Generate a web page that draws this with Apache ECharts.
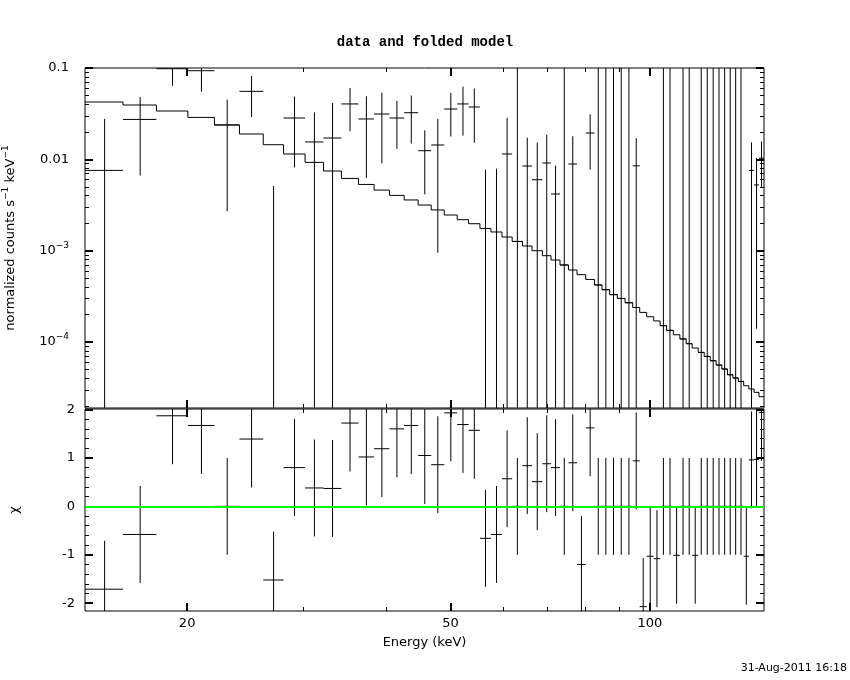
<!DOCTYPE html>
<html>
<head>
<meta charset="utf-8">
<script src="https://cdn.jsdelivr.net/npm/echarts@6/dist/echarts.min.js"></script>
<style>html,body{margin:0;padding:0;background:#fff}#chart{width:850px;height:680px}</style>
</head>
<body>
<div id="chart"></div>
<script>
// ---- data ----
const energyEdges = [14.02, 16.00, 17.97, 20.05, 21.99, 23.99, 26.06, 27.97, 30.14, 32.13,
  34.20, 36.29, 38.32, 40.42, 42.55, 44.67, 46.74, 48.91, 51.17, 53.23,
  55.37, 57.53, 59.78, 61.94, 64.20, 66.36, 68.81, 70.90, 73.16, 75.33,
  77.62, 80.01, 82.47, 84.65, 86.95, 89.28, 91.74, 94.20, 96.52, 98.90,
  101.34, 103.63, 106.00, 108.50, 110.99, 113.45, 115.85, 118.30, 120.80, 123.35,
  125.91, 128.43, 130.96, 133.49, 136.03, 138.57, 141.10, 143.68, 146.15, 148.72];

const dataVal = [0.00757, 0.02735, 0.0982, 0.0934, 0.0238, 0.0555, -0.0128, 0.02835, 0.0155, 0.01712,
  0.0404, 0.02767, 0.03134, 0.02835, 0.0324, 0.01243, 0.01435, 0.03556, 0.0404, 0.0374,
  -0.0098, -0.0071, 0.01144, 0.00126, 0.00845, 0.00598, 0.00912, 0.00417, 0.000697, 0.00889,
  -0.0043, 0.01942, 0.000421, 0.000374, 0.000330, 0.000300, 0.000269, 0.0085, -0.0205, -0.0101,
  -0.0106, 0.000151, 0.000134, -0.0100, 0.000108, 0.0000958, -0.0100, 0.0000769, 0.0000695, 0.0000624,
  0.0000560, 0.0000506, 0.0000438, 0.0000403, 0.0000370, -0.0103, 0.00757, 0.00524, 0.0103];

const dataErr = [0.0201, 0.0207, 0.0344, 0.0384, 0.0211, 0.0265, 0.0179, 0.0202, 0.0172, 0.0243,
  0.0201, 0.0214, 0.0223, 0.0153, 0.0175, 0.0083, 0.0134, 0.0178, 0.0222, 0.0222,
  0.0175, 0.0150, 0.0171, 0.3, 0.0088, 0.0093, 0.0095, 0.00434, 0.3, 0.0090,
  0.0040, 0.0117, 0.3, 0.3, 0.3, 0.3, 0.3, 0.0086, 0.0100, 0.0100,
  0.0100, 0.3, 0.3, 0.0100, 0.3, 0.3, 0.0100, 0.3, 0.3, 0.3,
  0.3, 0.3, 0.3, 0.3, 0.3, 0.0100, 0.00775, 0.0051, 0.0053];

const modelVal = [0.04243, 0.03934, 0.03382, 0.02877, 0.02376, 0.01894, 0.01446, 0.01144, 0.00926, 0.00745,
  0.00618, 0.00531, 0.00461, 0.00403, 0.00359, 0.00316, 0.00279, 0.002458, 0.002183, 0.001973,
  0.001752, 0.001601, 0.001411, 0.001263, 0.001125, 0.000999, 0.000881, 0.000790, 0.000697, 0.000614,
  0.000546, 0.000484, 0.000421, 0.000374, 0.000330, 0.000300, 0.000269, 0.000239, 0.000211, 0.000189,
  0.000170, 0.000151, 0.000134, 0.000120, 0.000108, 0.0000958, 0.0000859, 0.0000769, 0.0000695, 0.0000624,
  0.0000560, 0.0000506, 0.0000438, 0.0000403, 0.0000370, 0.0000332, 0.0000306, 0.0000281, 0.0000252];

const chiVal = [-1.71, -0.58, 1.87, 1.67, 0, 1.39, -1.52, 0.80, 0.38, 0.37,
  1.72, 1.02, 1.19, 1.60, 1.67, 1.05, 0.86, 1.93, 1.69, 1.57,
  -0.66, -0.58, 0.57, 0, 0.84, 0.51, 0.88, 0.80, 0, 0.90,
  -1.20, 1.62, 0, 0, 0, 0, 0, 0.94, -2.07, -1.03,
  -1.08, 0, 0, -1.01, 0, 0, -1.01, 0, 0, 0,
  0, 0, 0, 0, 0, -1.03, 0.96, 0.97, 1.94];

const xMajorTicks = [20, 50, 100];
const xTickLabels = ['20', '50', '100'];
const xMinorTicks = [30, 40, 60, 70, 80, 90];
const yTopMajorTicks = [0.0001, 0.001, 0.01, 0.1];
const yTopTickBase = ['10', '10', '0.01', '0.1'];
const yTopTickSup = ['\u22124', '\u22123', '', ''];
const yTopMinorTicks = [0.00002, 0.00003, 0.00004, 0.00005, 0.00006, 0.00007, 0.00008, 0.00009,
  0.0002, 0.0003, 0.0004, 0.0005, 0.0006, 0.0007, 0.0008, 0.0009,
  0.002, 0.003, 0.004, 0.005, 0.006, 0.007, 0.008, 0.009,
  0.02, 0.03, 0.04, 0.05, 0.06, 0.07, 0.08, 0.09];
const chiMajorTicks = [-2, -1, 0, 1, 2];
const chiTickLabels = ['-2', '-1', '0', '1', '2'];
const chiMinorTicks = [-1.8, -1.6, -1.4, -1.2, -0.8, -0.6, -0.4, -0.2, 0.2, 0.4, 0.6, 0.8, 1.2, 1.4, 1.6, 1.8];

const titleText = 'data and folded model';
const xName = 'Energy (keV)';
const yTopName = 'normalized counts s{s|\u22121} keV{s|\u22121}';
const yChiName = '\u03c7';
const dateText = '31-Aug-2011 16:18';

// ---- axis ranges ----
const X_MIN = energyEdges[0], X_MAX = energyEdges[energyEdges.length - 1];
const Y_MIN = 1.894e-5, Y_MAX = 0.1;
const CHI_MIN = -2.16, CHI_MAX = 2.01;
const FONT = 'DejaVu Sans';

const binLo = energyEdges.slice(0, -1);
const binHi = energyEdges.slice(1);

const topData = binLo.map((lo, i) => [lo, binHi[i], dataVal[i], dataErr[i]]);
const chiData = binLo.map((lo, i) => [lo, binHi[i], chiVal[i], 1]);
const modelLine = [];
binLo.forEach((lo, i) => { modelLine.push([lo, modelVal[i]]); modelLine.push([binHi[i], modelVal[i]]); });

function seg(a, b) {
  return { type: 'line', shape: { x1: a[0], y1: a[1], x2: b[0], y2: b[1] },
           style: { stroke: '#000', lineWidth: 1 } };
}
function makeRender(isLog) {
  return function (params, api) {
    const lo = api.value(0), hi = api.value(1), y = api.value(2), s = api.value(3);
    const xc = (lo + hi) / 2;
    const children = [];
    const up = y + s, dn = y - s;
    if (!isLog || y > 0) children.push(seg(api.coord([lo, y]), api.coord([hi, y])));
    if (!isLog || up > 0) {
      const bottom = isLog ? (dn > 0 ? dn : 1e-7) : dn;
      children.push(seg(api.coord([xc, up]), api.coord([xc, bottom])));
    }
    return { type: 'group', children };
  };
}

function axis(type, gridIndex, position, min, max, ticks, len, width, extra) {
  const a = {
    type, gridIndex, position, min, max,
    axisLine: { show: false, onZero: false },
    splitLine: { show: false },
    axisTick: { show: true, inside: true, length: len, customValues: ticks,
                lineStyle: { color: '#000', width } },
    axisLabel: { show: false }
  };
  if (type === 'log') a.logBase = 10;
  return Object.assign(a, extra || {});
}
const richLab = {
  b: { fontFamily: FONT, fontSize: 13, color: '#000', verticalAlign: 'middle', lineHeight: 20 },
  s: { fontFamily: FONT, fontSize: 9, color: '#000', verticalAlign: 'top', lineHeight: 20 }
};
function findIndex(v, ticks, isLog) {
  for (let i = 0; i < ticks.length; i++) {
    const d = isLog ? Math.abs(Math.log10(v) - Math.log10(ticks[i])) : Math.abs(v - ticks[i]);
    if (d < 1e-6) return i;
  }
  return -1;
}
function topLabel(v) {
  const i = findIndex(v, yTopMajorTicks, true);
  if (i < 0) return '';
  return '{b|' + yTopTickBase[i] + '}' + (yTopTickSup[i] ? '{s|' + yTopTickSup[i] + '}' : '');
}

const xAxes = [
  axis('log', 0, 'bottom', X_MIN, X_MAX, xMajorTicks, 8, 2),
  axis('log', 0, 'bottom', X_MIN, X_MAX, xMinorTicks, 4, 1),
  axis('log', 0, 'top', X_MIN, X_MAX, xMajorTicks, 8, 2),
  axis('log', 0, 'top', X_MIN, X_MAX, xMinorTicks, 4, 1),
  axis('log', 1, 'bottom', X_MIN, X_MAX, xMajorTicks, 8, 2, {
    axisLabel: { show: true, customValues: xMajorTicks, margin: 6,
      formatter: v => { const i = findIndex(v, xMajorTicks, true); return i < 0 ? '' : xTickLabels[i]; },
      fontFamily: FONT, fontSize: 13, color: '#000' },
    name: xName, nameLocation: 'middle', nameGap: 25,
    nameTextStyle: { fontFamily: FONT, fontSize: 13, color: '#000' }
  }),
  axis('log', 1, 'bottom', X_MIN, X_MAX, xMinorTicks, 4, 1),
  axis('log', 1, 'top', X_MIN, X_MAX, xMajorTicks, 8, 2),
  axis('log', 1, 'top', X_MIN, X_MAX, xMinorTicks, 4, 1)
];
const yAxes = [
  axis('log', 0, 'left', Y_MIN, Y_MAX, yTopMajorTicks, 8, 2, {
    axisLabel: { show: true, customValues: yTopMajorTicks, margin: 16,
      formatter: topLabel, rich: richLab },
    name: yTopName, nameLocation: 'middle', nameRotate: 90, nameGap: 64,
    nameTextStyle: { fontFamily: FONT, fontSize: 13, color: '#000', lineHeight: 20, verticalAlign: 'bottom',
      rich: { s: { fontFamily: FONT, fontSize: 9, color: '#000', verticalAlign: 'top', lineHeight: 20 } } }
  }),
  axis('log', 0, 'left', Y_MIN, Y_MAX, yTopMinorTicks, 4, 1),
  axis('log', 0, 'right', Y_MIN, Y_MAX, yTopMajorTicks, 8, 2),
  axis('log', 0, 'right', Y_MIN, Y_MAX, yTopMinorTicks, 4, 1),
  axis('value', 1, 'left', CHI_MIN, CHI_MAX, chiMajorTicks, 8, 2, {
    axisLabel: { show: true, customValues: chiMajorTicks, margin: 10,
      formatter: v => { const i = findIndex(v, chiMajorTicks, false); return i < 0 ? '' : chiTickLabels[i]; },
      fontFamily: FONT, fontSize: 13, color: '#000' },
    name: yChiName, nameLocation: 'middle', nameRotate: 90, nameGap: 64,
    nameTextStyle: { fontFamily: FONT, fontSize: 13, color: '#000' }
  }),
  axis('value', 1, 'left', CHI_MIN, CHI_MAX, chiMinorTicks, 4, 1),
  axis('value', 1, 'right', CHI_MIN, CHI_MAX, chiMajorTicks, 8, 2),
  axis('value', 1, 'right', CHI_MIN, CHI_MAX, chiMinorTicks, 4, 1)
];

const chart = echarts.init(document.getElementById('chart'), null, { renderer: 'canvas' });
chart.setOption({
  animation: false,
  backgroundColor: '#fff',
  textStyle: { fontFamily: FONT },
  title: { text: titleText, left: 'center', top: 30,
    textStyle: { fontFamily: 'Liberation Mono', fontWeight: 'bold', fontSize: 14, color: '#000' } },
  grid: [
    { left: 85, top: 68, width: 679, height: 340, outerBoundsMode: 'none', containLabel: false,
      show: true, borderColor: '#000', borderWidth: 1, backgroundColor: 'transparent' },
    { left: 85, top: 409, width: 679, height: 202, outerBoundsMode: 'none', containLabel: false,
      show: true, borderColor: '#000', borderWidth: 1, backgroundColor: 'transparent' }
  ],
  xAxis: xAxes,
  yAxis: yAxes,
  graphic: [
    { type: 'text', right: 3, top: 663, style: { text: dateText, font: '11px "DejaVu Sans"', fill: '#000' } }
  ],
  series: [
    { type: 'line', name: 'model', xAxisIndex: 0, yAxisIndex: 0, data: modelLine,
      showSymbol: false, symbol: 'none', clip: true, lineStyle: { color: '#000', width: 1 }, z: 3 },
    { type: 'custom', name: 'data', xAxisIndex: 0, yAxisIndex: 0, data: topData,
      renderItem: makeRender(true), clip: true, z: 4 },
    { type: 'custom', name: 'chi', xAxisIndex: 4, yAxisIndex: 4, data: chiData,
      renderItem: makeRender(false), clip: true, z: 4,
      markLine: { silent: true, symbol: 'none', label: { show: false },
        lineStyle: { color: '#00ff00', width: 2, type: 'solid' }, data: [{ yAxis: 0 }] } }
  ]
});
</script>
</body>
</html>
